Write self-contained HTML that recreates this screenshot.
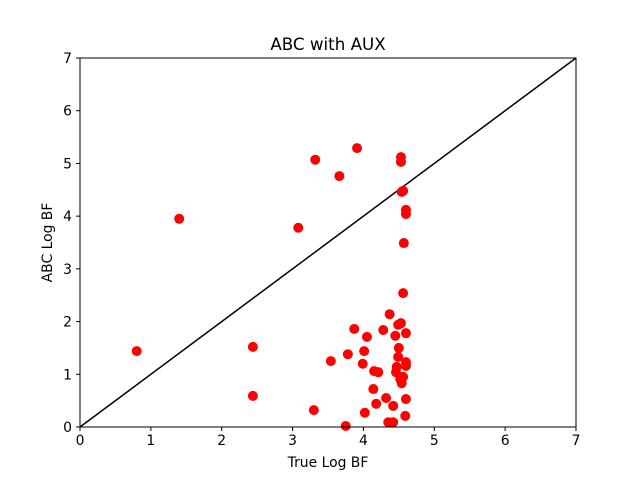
<!DOCTYPE html>
<html><head><meta charset="utf-8"><style>body{margin:0;background:#fff}svg{display:block;font-family:"DejaVu Sans","Liberation Sans",sans-serif}</style></head>
<body>
<svg id="chart" width="640" height="480" xmlns="http://www.w3.org/2000/svg">
<rect width="640" height="480" fill="#fff"/>
<text x="328" y="50" text-anchor="middle" font-size="16.7">ABC with AUX</text>
<g id="marks"></g>
<g id="axes"></g>
<text x="328" y="467" text-anchor="middle" font-size="13.9">True Log BF</text>
<text transform="translate(52,242.5) rotate(-90)" text-anchor="middle" font-size="13.9">ABC Log BF</text>
</svg>
<script>
const xTicks=[0,1,2,3,4,5,6,7];
const yTicks=[0,1,2,3,4,5,6,7];
const trueLogBF=[0.80,1.40,2.44,2.44,3.08,3.32,3.30,3.66,3.91,3.54,3.78,3.87,3.99,4.01,4.05,4.14,4.15,4.18,4.21,4.28,4.32,4.37,4.42,4.42,4.35,4.45,4.47,4.49,4.50,4.49,4.52,4.53,4.54,4.53,4.53,4.56,4.56,4.57,4.59,4.60,4.60,4.60,4.60,4.60,4.60,4.54,4.46,3.75,4.02,4.56];
const abcLogBF=[1.44,3.95,1.52,0.59,3.78,5.07,0.32,4.76,5.29,1.25,1.38,1.86,1.20,1.44,1.71,0.72,1.06,0.44,1.04,1.84,0.55,2.14,0.40,0.09,0.09,1.73,1.14,1.33,1.50,1.94,0.91,1.97,4.46,5.03,5.12,4.48,2.54,3.49,0.21,0.53,4.04,4.12,1.23,1.16,1.78,0.83,1.04,0.02,0.27,0.95];
const X0=80,X1=576,Y0=427,Y1=58;
const sx=v=>X0+(v-0)/(7-0)*(X1-X0);
const sy=v=>Y0-(v-0)/(7-0)*(Y0-Y1);
const NS="http://www.w3.org/2000/svg";
const marks=document.getElementById('marks'),axes=document.getElementById('axes');
function mk(tag,at,parent){const e=document.createElementNS(NS,tag);for(const k in at)e.setAttribute(k,at[k]);parent.appendChild(e);return e;}
// diagonal
const d=mk('line',{x1:sx(0),y1:sy(0),x2:sx(7),y2:sy(7),stroke:'#000','stroke-width':1.5},marks);


trueLogBF.forEach((v,i)=>{const c=mk('circle',{cx:sx(v),cy:sy(abcLogBF[i]),r:5,fill:'#ff0000'},marks);

});
const fr=mk('rect',{x:X0,y:Y1,width:X1-X0,height:Y0-Y1,fill:'none',stroke:'#000','stroke-width':1},axes);


xTicks.forEach(t=>{const x=sx(t);mk('line',{x1:x,y1:Y0,x2:x,y2:Y0+4,stroke:'#000'},axes);
const tx=mk('text',{x:x,y:Y0+18,'text-anchor':'middle','font-size':13.9},axes);tx.textContent=t;

});
yTicks.forEach(t=>{const y=sy(t);mk('line',{x1:X0-4,y1:y,x2:X0,y2:y,stroke:'#000'},axes);
const tx=mk('text',{x:X0-8,y:y+5,'text-anchor':'end','font-size':13.9},axes);tx.textContent=t;

});
</script>
</body></html>
